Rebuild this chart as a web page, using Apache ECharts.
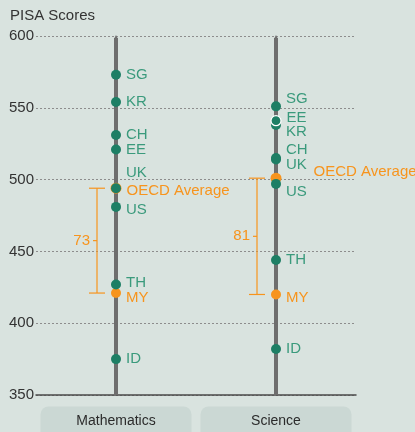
<!DOCTYPE html>
<html>
<head>
<meta charset="utf-8">
<script src="https://cdn.jsdelivr.net/npm/echarts@6/dist/echarts.min.js"></script>
<style>
  html, body { margin: 0; padding: 0; background: #d9e3df; }
  #chart { width: 415px; height: 432px; }
</style>
</head>
<body>
<div id="chart"></div>
<script>
// data (PISA 2012)
const categories = ["Mathematics", "Science"];
const countries = ["SG", "KR", "CH", "EE", "UK", "US", "TH", "ID"];
const mathScores = [573, 554, 531, 521, 494, 481, 427, 375];
const scienceScores = [551, 538, 515, 541, 514, 497, 444, 382];
const oecdAverage = [494, 501];
const malaysia = [421, 420];
const yMin = 350;
const yMax = 600;
const yStep = 50;

// colours
const green = "#1d7f65";
const greenText = "#3a9a7c";
const orange = "#f7941d";
const spine = "#6e6e6e";
const font = "Liberation Sans, Arial, sans-serif";

// label nudges (px) so crowded labels don't sit on each other
const labelShift = {
  Mathematics: { UK: -15, US: 3, TH: -2 },
  Science: { SG: -8, EE: -3, KR: 7, CH: -8, UK: 5, US: 8 },
};
const avgShift = [[0, 3], [27, -6]];
const myShift = [[0, 5], [0, 3]];

const chart = echarts.init(document.getElementById("chart"));

// green country dots
const countryPoints = [];
[mathScores, scienceScores].forEach((scores, ci) => {
  scores.forEach((v, i) => {
    const name = countries[i];
    const dy = (labelShift[categories[ci]] || {})[name] || 0;
    const item = {
      name: name,
      value: [ci, v],
      label: { offset: [0, dy] },
    };
    // EE sits right on top of KR in science
    if (ci === 1 && name === "EE") {
      item.itemStyle = { borderColor: "#ffffff", borderWidth: 1.2 };
    }
    countryPoints.push(item);
  });
});

// orange dots: OECD average + Malaysia
const orangePoints = [];
categories.forEach((c, ci) => {
  orangePoints.push({
    name: "OECD Average",
    value: [ci, oecdAverage[ci]],
    symbolSize: 11,
    label: { offset: avgShift[ci] },
  });
  orangePoints.push({
    name: "MY",
    value: [ci, malaysia[ci]],
    label: { offset: myShift[ci] },
  });
});

const bracketData = categories.map((c, ci) => [
  ci, oecdAverage[ci], malaysia[ci], oecdAverage[ci] - malaysia[ci],
]);

const option = {
  backgroundColor: "#d9e3df",
  animation: false,
  title: {
    text: "PISA Scores",
    left: 5,
    top: 3,
    textStyle: { fontFamily: font, fontSize: 15, fontWeight: "normal", color: "#333" },
  },
  grid: { left: 36, right: 59, top: 36, bottom: 37, outerBoundsMode: "none" },
  xAxis: {
    type: "category",
    data: categories,
    axisTick: { show: false },
    axisLine: { lineStyle: { color: "#4a4a4a", width: 1.5 } },
    axisLabel: {
      margin: 20,
      formatter: (v) => "{box|" + v + "}",
      rich: {
        box: {
          width: 151,
          align: "center",
          backgroundColor: "#cbd8d4",
          borderRadius: [8, 8, 0, 0],
          padding: [8, 0, 11, 0],
          lineHeight: 16,
          fontFamily: font,
          fontSize: 14,
          color: "#2b2b2b",
        },
      },
    },
  },
  yAxis: {
    type: "value",
    min: yMin,
    max: yMax,
    interval: yStep,
    axisLine: { show: false },
    axisTick: { show: false },
    axisLabel: { margin: 2, fontFamily: font, fontSize: 15, color: "#333" },
    splitLine: { lineStyle: { color: "#8d8d8d", type: [2, 2], width: 1 } },
  },
  series: [
    {
      // grey spine for each subject
      type: "custom",
      z: 1,
      silent: true,
      data: categories.map((c, ci) => [ci]),
      renderItem(params, api) {
        const top = api.coord([api.value(0), yMax]);
        const bot = api.coord([api.value(0), yMin]);
        return {
          type: "group",
          children: [
            {
              type: "line",
              shape: { x1: top[0], y1: top[1] + 2, x2: bot[0], y2: bot[1] },
              style: { stroke: spine, lineWidth: 4 },
            },
            {
              type: "polygon",
              shape: { points: [[top[0] - 2, top[1] + 3], [top[0] + 2, top[1] + 3], [top[0], top[1] - 1]] },
              style: { fill: spine },
            },
          ],
        };
      },
    },
    {
      // gap bracket between OECD average and Malaysia
      type: "custom",
      z: 2,
      silent: true,
      data: bracketData,
      renderItem(params, api) {
        const a = api.coord([api.value(0), api.value(1)]);
        const b = api.coord([api.value(0), api.value(2)]);
        const x = a[0] - 19;
        const mid = (a[1] + b[1]) / 2;
        const st = { stroke: orange, lineWidth: 1.2 };
        return {
          type: "group",
          children: [
            { type: "line", shape: { x1: x, y1: a[1], x2: x, y2: b[1] }, style: st },
            { type: "line", shape: { x1: x - 8, y1: a[1], x2: x + 8, y2: a[1] }, style: st },
            { type: "line", shape: { x1: x - 8, y1: b[1], x2: x + 8, y2: b[1] }, style: st },
            { type: "line", shape: { x1: x - 4, y1: mid, x2: x, y2: mid }, style: st },
            {
              type: "text",
              style: {
                text: String(api.value(3)),
                x: x - 7,
                y: mid,
                align: "right",
                verticalAlign: "middle",
                fill: orange,
                font: "15px " + font,
              },
            },
          ],
        };
      },
    },
    {
      name: "Average",
      type: "scatter",
      z: 3,
      symbolSize: 10,
      itemStyle: { color: orange, opacity: 1 },
      label: {
        show: true,
        position: "right",
        distance: 5,
        formatter: "{b}",
        fontFamily: font,
        fontSize: 15,
        color: orange,
      },
      data: orangePoints,
    },
    {
      name: "Countries",
      type: "scatter",
      z: 4,
      symbolSize: 10,
      itemStyle: { color: green, opacity: 1 },
      label: {
        show: true,
        position: "right",
        distance: 5,
        formatter: "{b}",
        fontFamily: font,
        fontSize: 15,
        color: greenText,
      },
      data: countryPoints,
    },
  ],
};

chart.setOption(option);
</script>
</body>
</html>
